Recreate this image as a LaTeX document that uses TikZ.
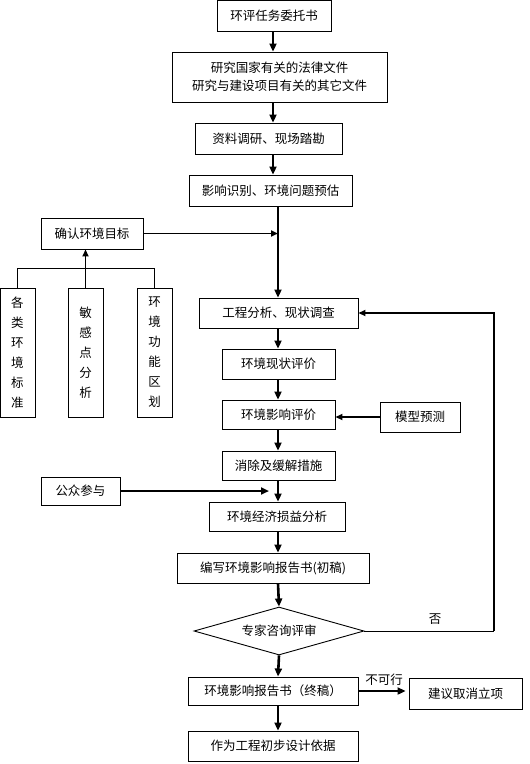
\documentclass[tikz,border=0pt]{standalone}
\usepackage{fontspec}
\usepackage{tikz}
\usepackage{xcolor}
\usetikzlibrary{arrows.meta,positioning,calc,shapes.geometric}
\newfontfamily\cjk{Noto Sans CJK SC}
\definecolor{ink}  {HTML}{000000}
\definecolor{paper}{HTML}{FFFFFF}
\tikzset{
  box/.style     ={draw=ink, fill=white, line width=0.9pt,
                   inner sep=0pt, align=center,
                   font=\cjk\fontsize{12.5}{18}\selectfont},
  vbox/.style    ={box, minimum width=35pt, minimum height=129pt,
                   font=\cjk\fontsize{12.5}{20}\selectfont},
  decide/.style  ={diamond, aspect=3.5, draw=ink, line width=0.9pt,
                   inner sep=0pt, minimum width=170pt, minimum height=48pt,
                   font=\cjk\fontsize{12.5}{18}\selectfont},
  arr/.style     ={-{Triangle[length=8pt,width=7pt]}, line width=2.6pt},
  midarr/.style  ={-{Triangle[length=7pt,width=6pt]}, line width=1.8pt},
  thinline/.style={line width=0.9pt},
  lab/.style     ={font=\cjk\fontsize{12.5}{15}\selectfont, inner sep=0pt},
}
\begin{document}
\begin{tikzpicture}[x=1pt,y=-1pt]
  \useasboundingbox (0,0) rectangle (530,764);

  % main column
  \node[box,minimum width=114pt,minimum height=31pt] (task) at (274,15.5) {环评任务委托书};
  \node[box,minimum width=215pt,minimum height=50pt] (laws) at (279.5,77)
    {研究国家有关的法律文件\\研究与建设项目有关的其它文件};
  \node[box,minimum width=147pt,minimum height=31pt] (survey) at (268.5,138.5) {资料调研、现场踏勘};
  \node[box,minimum width=163pt,minimum height=31pt] (ident) at (270.5,190.5) {影响识别、环境问题预估};
  \node[box,minimum width=159pt,minimum height=30pt] (proj) at (278.5,313) {工程分析、现状调查};
  \node[box,minimum width=113pt,minimum height=30pt] (status) at (278.5,364) {环境现状评价};
  \node[box,minimum width=113pt,minimum height=29pt] (impact) at (278.5,414.5) {环境影响评价};
  \node[box,minimum width=113pt,minimum height=29pt] (mitig) at (278.5,465.5) {消除及缓解措施};
  \node[box,minimum width=136pt,minimum height=29pt] (econ) at (277,516.5) {环境经济损益分析};
  \node[box,minimum width=192pt,minimum height=30pt] (draft) at (273,568) {编写环境影响报告书(初稿)};
  \node[decide] (review) at (279,631) {专家咨询评审};
  \node[box,minimum width=170pt,minimum height=28pt] (final) at (273,691) {环境影响报告书（终稿）};
  \node[box,minimum width=170pt,minimum height=30pt] (basis) at (273,746) {作为工程初步设计依据};

  % side boxes
  \node[box,minimum width=102pt,minimum height=31pt] (goal) at (92,233.5) {确认环境目标};
  \node[vbox] (std) at (17.5,352.5) {各\\类\\环\\境\\标\\准};
  \node[vbox] (sens) at (85.5,352.5) {敏\\感\\点\\分\\析};
  \node[vbox] (zone) at (154.5,352.5) {环\\境\\功\\能\\区\\划};
  \node[box,minimum width=80pt,minimum height=30pt] (model) at (420,417) {模型预测};
  \node[box,minimum width=79pt,minimum height=28pt] (public) at (80.5,491) {公众参与};
  \node[box,minimum width=113pt,minimum height=31pt] (cancel) at (465.5,693.5) {建议取消立项};

  \coordinate (upper) at (273,0);
  \coordinate (spine) at (278,0);
  \coordinate (bar) at (0,268);
  \coordinate (back) at (494,313);

  % flow
  \draw[arr] (task.south -| upper) -- (laws.north -| upper);
  \draw[arr] (laws.south -| upper) -- (survey.north -| upper);
  \draw[arr] (survey.south -| upper) -- (ident.north -| upper);
  \draw[arr] (ident.south -| spine) -- (proj.north -| spine);
  \draw[arr] (proj.south -| spine) -- (status.north -| spine);
  \draw[arr] (status.south -| spine) -- (impact.north -| spine);
  \draw[arr] (impact.south -| spine) -- (mitig.north -| spine);
  \draw[arr] (mitig.south -| spine) -- (econ.north -| spine);
  \draw[arr] (econ.south -| spine) -- (draft.north -| spine);
  \draw[arr] (draft.south -| spine) -- (review.north);
  \draw[arr] (review.south) -- (final.north -| spine);
  \draw[arr] (final.south -| spine) -- (basis.north -| spine);

  % inputs
  \draw[midarr] (goal.east) -- (goal.east -| spine);
  \draw[thinline] (std.north) -- (std.north |- bar) -- (zone.north |- bar) -- (zone.north);
  \draw[midarr] (sens.north) -- (sens.north |- goal.south);
  \draw[midarr] (model.west) -- (model.west -| impact.east);
  \draw[arr, shorten >=9pt] (public.east) -- (public.east -| spine);

  % review outcomes
  \draw[thinline] (review.east) -- (review.east -| back);
  \draw[midarr] (review.east -| back) -- (back) -- (proj.east);
  \node[lab] (no) at (435,619) {否};
  \draw[arr, shorten >=3pt] (final.east) -- (final.east -| cancel.west);
  \node[lab] (nogo) at (384,680) {不可行};
\end{tikzpicture}
\end{document}
